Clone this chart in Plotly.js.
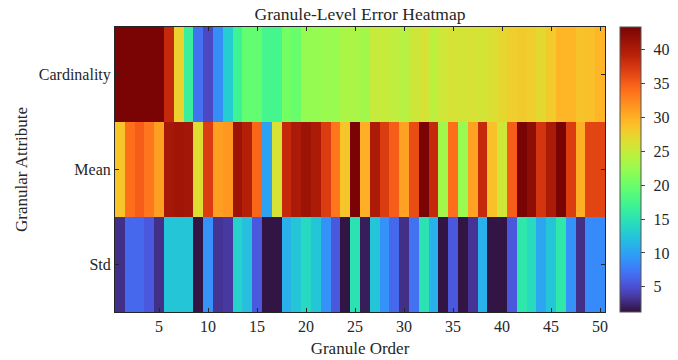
<!DOCTYPE html>
<html>
<head>
<meta charset="utf-8">
<script src="https://cdn.plot.ly/plotly-3.0.1.min.js"></script>
<style>html,body{margin:0;padding:0;background:#fff;}#chart{width:678px;height:360px;}</style>
</head>
<body>
<div id="chart"></div>
<script>
// ---- data ----
const granuleOrder = [1,2,3,4,5,6,7,8,9,10,11,12,13,14,15,16,17,18,19,20,21,22,23,24,25,26,27,28,29,30,31,32,33,34,35,36,37,38,39,40,41,42,43,44,45,46,47,48,49,50];
const attributes = ['Cardinality', 'Mean', 'Std'];
const cardinality = [43.4,43.3,43.4,43.3,43.4,38.5,27.5,16.5,7.0,4.5,8.8,13.0,17.0,19.5,19.5,17.5,17.5,20.5,19.8,22.3,22.3,22.6,22.4,23.5,23.5,23.0,25.0,25.0,24.6,24.2,25.4,26.0,24.4,25.5,26.0,25.8,26.0,25.8,26.3,27.0,27.8,28.0,27.8,26.9,28.0,29.6,29.5,28.6,28.8,29.6];
const meanErr = [28.5,34.0,35.0,33.5,31.0,40.5,40.8,40.6,26.5,37.0,31.0,31.5,41.0,39.5,34.5,10.0,26.0,38.5,40.0,41.0,40.0,37.0,33.5,28.5,43.3,30.0,40.0,37.0,35.0,30.8,36.0,43.3,38.5,23.0,34.0,22.5,30.8,38.5,28.8,25.5,35.0,43.3,42.0,37.5,40.0,43.3,37.0,30.0,36.5,36.5];
const stdErr = [3.0,6.5,6.5,5.5,3.0,12.5,12.5,12.5,1.5,9.0,3.3,3.6,13.5,12.0,5.5,1.5,1.5,11.0,12.5,14.0,12.5,9.0,5.5,1.5,15.0,2.0,12.5,9.0,6.5,3.0,7.0,15.0,11.0,1.5,5.5,1.5,3.3,11.0,1.5,1.5,5.5,15.5,14.3,10.3,12.5,15.5,9.0,3.0,8.5,8.5];
const colorbarTicks = [5,10,15,20,25,30,35,40];
const colorbarLabels = ['5','10','15','20','25','30','35','40'];
const xTicks = [5,10,15,20,25,30,35,40,45,50];

// turbo colormap (polynomial approximation, ends pinned to the true turbo end colours)
function turboPoly(t){
  const r = 34.61 + t * (1172.33 - t * (10793.56 - t * (33300.12 - t * (38394.49 - t * 14825.05))));
  const g = 23.31 + t * (557.33 + t * (1225.33 - t * (3574.96 - t * (1073.77 + t * 707.56))));
  const b = 27.2 + t * (3211.1 - t * (15327.97 - t * (27814 - t * (22569.18 - t * 6838.66))));
  return [r, g, b];
}
function lerp(a, b, f){ return [a[0]+(b[0]-a[0])*f, a[1]+(b[1]-a[1])*f, a[2]+(b[2]-a[2])*f]; }
function turbo(t){
  t = Math.max(0, Math.min(1, t));
  let c;
  if (t > 0.9) c = lerp(turboPoly(0.9), [122, 4, 3], (t - 0.9) / 0.1);
  else if (t < 0.05) c = lerp([48, 18, 59], turboPoly(0.05), t / 0.05);
  else c = turboPoly(t);
  const cl = v => Math.max(0, Math.min(255, Math.round(v)));
  return 'rgb(' + cl(c[0]) + ',' + cl(c[1]) + ',' + cl(c[2]) + ')';
}
const turboScale = [];
for (let i = 0; i <= 40; i++) { turboScale.push([i/40, turbo(i/40)]); }

const serif = '"Liberation Serif", "Times New Roman", serif';
const textColor = '#262626';

const trace = {
  type: 'heatmap',
  x: granuleOrder,
  y: attributes,
  z: [cardinality, meanErr, stdErr],
  zmin: 1.3,
  zmax: 43.3,
  colorscale: turboScale,
  xgap: 0, ygap: 0,
  colorbar: {
    x: 1.031, xanchor: 'left', xref: 'paper',
    y: 0.5, yanchor: 'middle', len: 1, lenmode: 'fraction',
    thickness: 21, thicknessmode: 'pixels',
    outlinewidth: 1, outlinecolor: '#555',
    tickvals: colorbarTicks,
    ticktext: colorbarLabels.map(s => '\u2004' + s),
    ticks: 'outside', ticklen: 4, tickcolor: '#444',
    tickfont: {family: serif, size: 16, color: textColor},
    xpad: 0, ypad: 0
  },
  hoverongaps: false
};

const layout = {
  width: 678, height: 360,
  margin: {l: 115, r: 73, t: 27, b: 48, autoexpand: false},
  paper_bgcolor: '#fff', plot_bgcolor: '#fff',
  font: {family: serif, color: textColor},
  title: {text: 'Granule-Level Error Heatmap', font: {family: serif, size: 17.5, color: textColor}, x: 0.5, xref: 'paper', xanchor: 'center', y: 0.962, yanchor: 'middle', yref: 'container'},
  xaxis: {
    range: [0.5, 50.5], tickvals: xTicks, ticks: 'inside', ticklen: 4, tickcolor: '#262626',
    showline: true, linecolor: '#262626', linewidth: 1, mirror: 'ticks', showgrid: false, zeroline: false,
    tickfont: {family: serif, size: 16, color: textColor},
    title: {text: 'Granule Order', font: {family: serif, size: 17, color: textColor}, standoff: 7}
  },
  yaxis: {
    type: 'category', autorange: 'reversed', ticks: 'inside', ticklen: 4, tickcolor: '#262626',
    showline: true, linecolor: '#262626', linewidth: 1, mirror: 'ticks', showgrid: false, zeroline: false,
    tickfont: {family: serif, size: 16, color: textColor},
    title: {text: 'Granular Attribute', font: {family: serif, size: 17, color: textColor}, standoff: 6}
  }
};

Plotly.newPlot('chart', [trace], layout, {displayModeBar: false, staticPlot: true});
</script>
</body>
</html>
